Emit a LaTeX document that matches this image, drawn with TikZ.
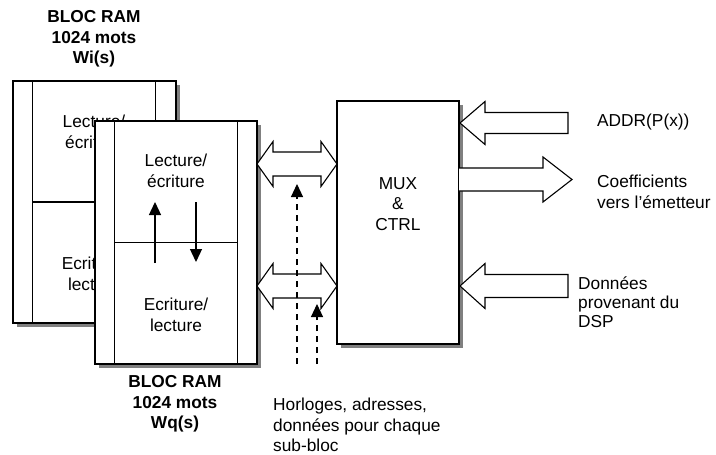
\documentclass[tikz,border=0pt]{standalone}
\usepackage{fontspec}
\setmainfont{Liberation Sans}
\usetikzlibrary{arrows.meta,shadows,calc}
\newcommand\myfs{\fontsize{17.3}{20.7}\selectfont}
\newcommand\busarrow[2]{% #1 = name suffix, #2 = y centre
  \draw[bus] (257,#2) -- (273,#2-22.5) -- (273,#2-12) -- (321,#2-12) -- (321,#2-22.5)
    -- (337,#2) -- (321,#2+22.5) -- (321,#2+12) -- (273,#2+12) -- (273,#2+22.5) -- cycle;}
\begin{document}
\begin{tikzpicture}[x=1pt,y=-1pt,
  ram/.style={draw, fill=white, line width=1.3pt, inner sep=0pt,
    general shadow={fill=black!50, shadow xshift=4pt, shadow yshift=-4pt}},
  lbl/.style={align=center, inner sep=0pt, font=\myfs},
  ttl/.style={align=center, inner sep=0pt, font=\myfs\bfseries},
  side/.style={align=left, anchor=west, inner sep=0pt, font=\myfs},
  bus/.style={draw, fill=white, line width=1.1pt, line join=miter},
  flow/.style={line width=1.3pt, -{Triangle[length=13pt,width=12pt]}},
  sig/.style={flow, line width=1.1pt, dash pattern=on 6pt off 5pt}]
\useasboundingbox (0,0) rectangle (716,455);

% title of back block
\node[ttl] (ti) at (94,39) {BLOC RAM\\1024 mots\\Wi(s)};

% back RAM block Wi(s)
\node[ram, minimum width=163pt, minimum height=242pt] (wi) at (94.5,202) {};
\draw[line width=1.3pt] ($(wi.north west)+(20,0)$) -- ($(wi.south west)+(20,0)$);
\draw[line width=1.3pt] ($(wi.north east)+(-21,0)$) -- ($(wi.south east)+(-21,0)$);
\draw[line width=1.3pt] ($(wi.west)+(20,0)$) -- ($(wi.east)+(-21,0)$);
\node[lbl] (wtop) at (94,131.5) {Lecture/\\écriture};
\node[lbl] (wbot) at (94,274) {Ecriture/\\lecture};

% front RAM block Wq(s)
\node[ram, minimum width=162pt, minimum height=243pt] (wq) at (176,242.5) {};
\draw[line width=1.3pt] ($(wq.north west)+(20,0)$) -- ($(wq.south west)+(20,0)$);
\draw[line width=1.3pt] ($(wq.north east)+(-20,0)$) -- ($(wq.south east)+(-20,0)$);
\draw[line width=1.3pt] ($(wq.west)+(20,0)$) -- ($(wq.east)+(-20,0)$);
\node[lbl] (qtop) at (176,171) {Lecture/\\écriture};
\node[lbl] (qbot) at (176,314.5) {Ecriture/\\lecture};
\coordinate (uplo) at (155,263);
\coordinate (uphi) at (155,202);
\coordinate (dnhi) at (196,202);
\coordinate (dnlo) at (196,262);
\draw[flow] (uplo) -- (uphi);
\draw[flow] (dnhi) -- (dnlo);
\node[ttl] (tq) at (175,404) {BLOC RAM\\1024 mots\\Wq(s)};

% MUX & CTRL
\node[ram, minimum width=122pt, minimum height=243pt, font=\myfs, align=center] (mux) at (398,222.5) {};
\node[lbl] (muxt) at (398,204) {MUX\\\&\\CTRL};

% bus arrows between RAM and MUX
\busarrow{a}{164}
\busarrow{b}{286}

% control signals (dashed)
\coordinate (s1) at (297,364);
\coordinate (s1t) at (297,184);
\coordinate (s2) at (317,364);
\coordinate (s2t) at (317,304);
\draw[sig] (s1) -- (s1t);
\draw[sig] (s2) -- (s2t);
\node[side] (clk) at (273,425) {Horloges, adresses,\\données pour chaque\\sub-bloc};

% right side arrows
\draw[bus] (460,123) -- (485,101.5) -- (485,112.5) -- (568,112.5) -- (568,133.5)
  -- (485,133.5) -- (485,144.5) -- cycle;
\draw[bus] (459,168) -- (543,168) -- (543,157) -- (572,179.5) -- (543,202) -- (543,191) -- (459,191);
\draw[bus] (460,286) -- (485,263.5) -- (485,274.5) -- (568,274.5) -- (568,297.5)
  -- (485,297.5) -- (485,308.5) -- cycle;

\node[side] (addr) at (597,122) {ADDR(P(x))};
\node[side] (coef) at (597,192) {Coefficients\\vers l’émetteur};
\node[side, font=\fontsize{17.3}{19}\selectfont] (dsp) at (578,302) {Données\\provenant du\\DSP};
\end{tikzpicture}
\end{document}
